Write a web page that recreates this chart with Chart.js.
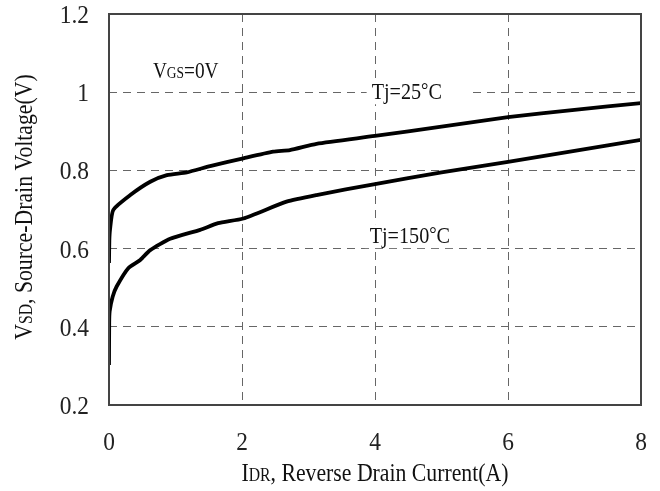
<!DOCTYPE html>
<html>
<head>
<meta charset="utf-8">
<script src="https://cdn.jsdelivr.net/npm/chart.js@4"></script>
<style>
  html, body { margin: 0; padding: 0; background: #fff; }
  #wrap { width: 660px; height: 491px; }
</style>
</head>
<body>
<div id="wrap"><canvas id="myChart"></canvas></div>
<script>
const ctx = document.getElementById('myChart');

// reverse drain current (A) and source-drain voltage (V)
const current25 = [0, 0.005, 0.015, 0.065, 0.32, 0.62, 0.87, 1.17, 1.52, 2.02, 2.47, 2.72, 3.12, 4, 5, 6, 7, 8];
const voltage25 = [0.563, 0.62, 0.648, 0.699, 0.737, 0.771, 0.788, 0.795, 0.811, 0.831, 0.848, 0.852, 0.868, 0.888, 0.912, 0.936, 0.955, 0.972];

const current150 = [0, 0.003, 0.01, 0.055, 0.115, 0.29, 0.47, 0.62, 0.92, 1.37, 1.64, 2.02, 2.67, 3.12, 4, 5, 6, 7, 8];
const voltage150 = [0.302, 0.41, 0.44, 0.477, 0.503, 0.55, 0.571, 0.596, 0.625, 0.648, 0.665, 0.677, 0.72, 0.737, 0.765, 0.795, 0.822, 0.85, 0.878];

const xTicks = [0, 2, 4, 6, 8];
const yTicks = [0.2, 0.4, 0.6, 0.8, 1, 1.2];

// notes inside the plot: [text parts, x (A), baseline y (V)]
const notes = [
  [[['V', 23], ['GS', 16], ['=0V', 23]], 0.66, 1.036],
  [[['Tj=25', 24], ['°', 22, -2], ['C', 24]], 3.95, 0.982],
  [[['Tj=150', 24], ['°', 22, -2], ['C', 24]], 3.92, 0.614]
];

const serif = '"Liberation Serif", "DejaVu Serif", serif';

function toPoints(xs, ys) {
  return xs.map((x, i) => ({ x: x, y: ys[i] }));
}

// condensed serif text, with smaller pieces for subscripts like V_SD
function drawText(c, parts, x, y, o) {
  const k = o.k || 0.85;
  let w = 0;
  parts.forEach(p => {
    c.font = p[1] + 'px ' + serif;
    w += c.measureText(p[0]).width;
  });
  let start = 0;
  if (o.align === 'center') start = -w / 2;
  if (o.align === 'right') start = -w;
  c.save();
  c.translate(x, y);
  if (o.rotate) c.rotate(o.rotate);
  c.scale(k, 1);
  if (o.bg) {
    c.fillStyle = '#fff';
    c.fillRect(start - 6, -19, w + 12 + (o.bgExtra || 0), 24);
  }
  c.fillStyle = o.color || '#111';
  c.textAlign = 'left';
  c.textBaseline = 'alphabetic';
  let cx = start;
  parts.forEach(p => {
    c.font = p[1] + 'px ' + serif;
    c.fillText(p[0], cx, p[2] || 0);
    cx += c.measureText(p[0]).width;
  });
  c.restore();
}

const extras = {
  id: 'extras',
  afterDatasetsDraw(chart) {
    const c = chart.ctx;
    const a = chart.chartArea;
    const xs = chart.scales.x, ys = chart.scales.y;
    c.save();
    // solid frame round the plot
    c.strokeStyle = '#444';
    c.lineWidth = 2;
    c.strokeRect(a.left, a.top, a.right - a.left, a.bottom - a.top);

    // tick labels
    xTicks.forEach(v => {
      drawText(c, [[String(v), 26]], xs.getPixelForValue(v), 450, { align: 'center', k: 0.9, color: '#222' });
    });
    yTicks.forEach(v => {
      drawText(c, [[String(v), 26]], a.left - 20, ys.getPixelForValue(v) + 9, { align: 'right', k: 0.9, color: '#222' });
    });

    // in-plot notes
    notes.forEach((n, i) => {
      drawText(c, n[0], xs.getPixelForValue(n[1]), ys.getPixelForValue(n[2]), { bg: true, k: 0.84, bgExtra: i === 1 ? 30 : 0 });
    });

    // axis titles
    drawText(c, [['I', 25], ['DR', 18], [', Reverse Drain Current(A)', 25]], (a.left + a.right) / 2, 481, { align: 'center', k: 0.87 });
    drawText(c, [['V', 25], ['SD', 18], [', Source-Drain Voltage(V)', 25]], 32, 207, { align: 'center', k: 0.87, rotate: -Math.PI / 2 });
    c.restore();
  }
};

const gridOpts = {
  color: '#666',
  lineWidth: 1,
  drawTicks: false,
  tickLength: 0
};

new Chart(ctx, {
  type: 'line',
  data: {
    datasets: [
      {
        label: 'Tj=25°C',
        data: toPoints(current25, voltage25),
        borderColor: '#000',
        borderWidth: 3.8,
        pointRadius: 0,
        tension: 0.2,
        fill: false
      },
      {
        label: 'Tj=150°C',
        data: toPoints(current150, voltage150),
        borderColor: '#000',
        borderWidth: 3.8,
        pointRadius: 0,
        tension: 0.2,
        fill: false
      }
    ]
  },
  options: {
    responsive: true,
    maintainAspectRatio: false,
    animation: false,
    layout: { padding: { top: 14, right: 19, left: 0, bottom: 0 } },
    plugins: {
      legend: { display: false },
      tooltip: { enabled: false }
    },
    scales: {
      x: {
        type: 'linear',
        min: 0,
        max: 8,
        grid: gridOpts,
        border: { display: false, dash: [8, 6] },
        afterBuildTicks: (scale) => { scale.ticks = xTicks.map(v => ({ value: v })); },
        afterFit: (scale) => { scale.height = 86; },
        ticks: { display: false }
      },
      y: {
        type: 'linear',
        min: 0.2,
        max: 1.2,
        grid: gridOpts,
        border: { display: false, dash: [8, 6] },
        afterBuildTicks: (scale) => { scale.ticks = yTicks.map(v => ({ value: v })); },
        afterFit: (scale) => { scale.width = 109; },
        ticks: { display: false }
      }
    }
  },
  plugins: [extras]
});
</script>
</body>
</html>
